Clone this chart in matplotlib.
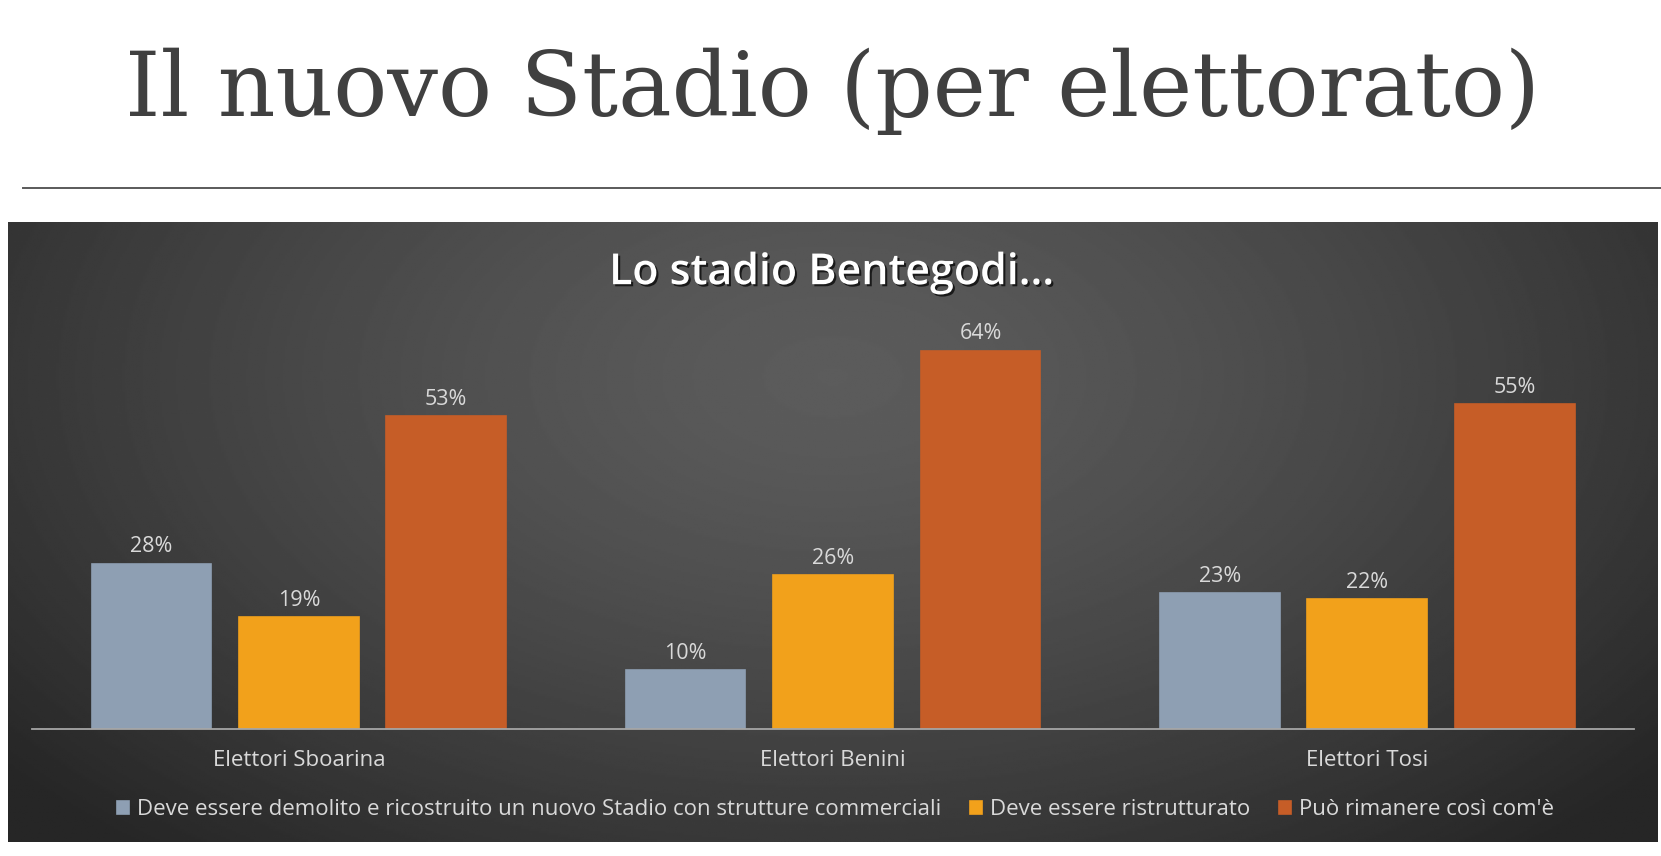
import numpy as np
import matplotlib
matplotlib.use("Agg")
import matplotlib.pyplot as plt
import matplotlib.patheffects as pe

# dati
categorie = ["Elettori Sboarina", "Elettori Benini", "Elettori Tosi"]
demolito = [28, 10, 23]
ristrutturato = [19, 26, 22]
rimanere = [53, 64, 55]
serie_nomi = [
    "Deve essere demolito e ricostruito un nuovo Stadio con strutture commerciali",
    "Deve essere ristrutturato",
    "Può rimanere così com'è",
]
colori = ["#8e9fb3", "#f2a11b", "#c65d27"]

W, H = 1661, 856
fig = plt.figure(figsize=(W / 100, H / 100), dpi=100)
fig.patch.set_facecolor("white")

# titolo della slide
titolo = fig.text(0.5015, 0.864, "Il nuovo Stadio (per elettorato)",
                  ha="center", va="baseline", family="DejaVu Serif",
                  fontsize=60, color="#404040")
fig.canvas.draw()
larg = titolo.get_window_extent().width
titolo.set_fontsize(60 * 1416 / larg)

fig.add_artist(plt.Line2D([0.014, 1.0], [0.780, 0.780], color="#5a5a5a", lw=1.4))

# pannello scuro con gradiente radiale
pan = [0.005, 0.016, 0.993, 0.725]
bg = fig.add_axes(pan, zorder=0)
yy, xx = np.mgrid[0:1:300j, 0:1:800j]
r = np.sqrt(((xx - 0.5) / 0.65) ** 2 + ((yy - 0.25) / 1.0) ** 2)
r = np.clip(r, 0, 1)
light, dark = 0.36, 0.15
img = light - (light - dark) * r ** 1.4
bg.imshow(img, cmap="gray", vmin=0, vmax=1, aspect="auto",
          extent=[0, 1, 0, 1], origin="upper")
bg.set_axis_off()

# titolo del grafico
t2 = fig.text(0.5006, 0.668, "Lo stadio Bentegodi...", ha="center", va="baseline",
              family="Open Sans", fontweight="semibold", fontsize=26, color="white")
t2.set_path_effects([pe.withSimplePatchShadow(offset=(1.5, -1.5),
                                              shadow_rgbFace="black", alpha=0.7)])
fig.canvas.draw()
t2.set_fontsize(26 * 445 / t2.get_window_extent().width)

ax = fig.add_axes([0.0191, 0.148, 0.9649, 0.484], zorder=1)
ax.set_facecolor("none")

x = np.arange(len(categorie))
larghezza = 0.224
passo = 0.276
serie = [demolito, ristrutturato, rimanere]
for i, (vals, col, nome) in enumerate(zip(serie, colori, serie_nomi)):
    barre = ax.bar(x + (i - 1) * passo, vals, larghezza, color=col,
                   edgecolor=col, linewidth=1.2, label=nome)
    for b, v in zip(barre, vals):
        ax.annotate(f"{v}%", (b.get_x() + b.get_width() / 2, v),
                    xytext=(0, 8), textcoords="offset points",
                    ha="center", va="baseline", color="#d9d9d9",
                    fontsize=15.5, family="Open Sans")

ax.set_xlim(-0.5, 2.5)
ax.set_ylim(0, 70)
ax.set_yticks([])
ax.set_xticks(x)
ax.set_xticklabels(categorie, color="#d9d9d9", fontsize=16, family="Open Sans")
ax.tick_params(axis="x", length=0, pad=15)
for s in ["top", "left", "right"]:
    ax.spines[s].set_visible(False)
ax.spines["bottom"].set_color("#a6a6a6")
ax.spines["bottom"].set_linewidth(1.3)

leg = fig.legend(loc="center", bbox_to_anchor=(0.503, 0.054), ncol=3,
                 frameon=False, handlelength=0.55, handleheight=0.55,
                 handletextpad=0.35, columnspacing=1.3,
                 prop={"family": "Open Sans", "size": 16})
for t in leg.get_texts():
    t.set_color("#d9d9d9")

fig.savefig("out.png", dpi=100, facecolor="white")
